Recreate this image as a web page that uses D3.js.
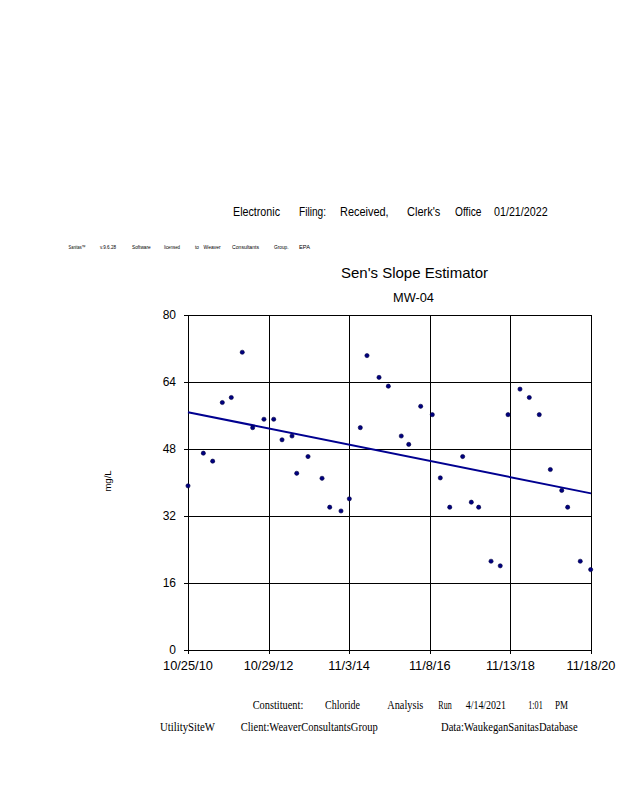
<!DOCTYPE html>
<html><head><meta charset="utf-8">
<script src="https://cdn.jsdelivr.net/npm/d3@7"></script>
<style>
html,body{margin:0;padding:0;background:#fff;}
svg{display:block;}
</style></head>
<body>
<script>
// ---- data ----
const sampleDates = ["2010-10-25","2011-03-14","2011-06-07","2011-09-03","2011-11-24","2012-03-03","2012-06-06","2012-09-17","2012-12-15","2013-03-01","2013-05-31","2013-07-13","2013-10-24","2014-03-01","2014-05-10","2014-08-21","2014-11-05","2015-02-13","2015-04-15","2015-08-03","2015-10-27","2016-02-22","2016-04-30","2016-08-17","2016-12-01","2017-02-12","2017-05-09","2017-09-04","2017-11-22","2018-01-28","2018-05-21","2018-08-13","2018-10-23","2019-02-09","2019-05-05","2019-08-04","2019-11-13","2020-02-25","2020-04-19","2020-08-12","2020-11-15"];
const chlorideValues = [39.2,47,45.1,59.1,60.3,71.1,53.1,55.1,55.1,50.2,51.1,42.2,46.2,41,34.1,33.2,36.1,53.1,70.3,65.1,63,51.1,49.1,58.2,56.2,41.1,34.1,46.2,35.3,34.1,21.2,20.1,56.2,62.3,60.3,56.2,43.1,38.1,34.1,21.2,19.2];
const trendDates = ["2010-10-25","2020-11-18"];
const trendValues = [56.8,37.4];
const xTickDates = ["2010-10-25","2012-10-29","2014-11-03","2016-11-08","2018-11-13","2020-11-18"];
const xTickLabels = ["10/25/10","10/29/12","11/3/14","11/8/16","11/13/18","11/18/20"];
const yTickValues = [0,16,32,48,64,80];
const titleText = "Sen's Slope Estimator";
const subtitleText = "MW-04";
const yAxisLabel = "mg/L";
const headerWords = ["Electronic","Filing:","Received,","Clerk's","Office","01/21/2022"];
const licenseWords = ["Sanitas\u2122","v.9.6.28","Software","licensed","to","Weaver","Consultants","Group.","EPA"];
const footerLine1 = ["Constituent:","Chloride","Analysis","Run","4/14/2021","1:01","PM"];
const footerLine2 = ["UtilitySiteW","Client:WeaverConsultantsGroup","Data:WaukeganSanitasDatabase"];

// ---- layout (positions, not data) ----
const headerLayout = [[233,47],[299,27],[340,48.6],[407,33.4],[455,26.4],[494,53.6]];
const licenseLayout = [[68.6,17],[100,16],[132,18.7],[164,16],[195,4],[203.6,17],[232,27],[274,14.6],[299,11]];
const footer1Layout = [[252.7,50.6],[325,35],[387.3,36],[438.3,13.4],[465.7,40.3],[528.3,14.4],[555,13]];
const footer2Layout = [[160,55],[240.7,137],[441,136.7]];

const W = 618, H = 800;
const svg = d3.select("body").append("svg").attr("width", W).attr("height", H);
const parse = d3.utcParse("%Y-%m-%d");

const x = d3.scaleUtc().domain([parse(xTickDates[0]), parse(xTickDates[xTickDates.length-1])]).range([188, 591]);
const y = d3.scaleLinear().domain([0, 80]).range([650, 315]);

function words(list, layout, baseline, family, size){
  svg.append("g").selectAll("text").data(list).join("text")
    .attr("x", (d,i)=>layout[i][0])
    .attr("y", baseline)
    .attr("textLength", (d,i)=>layout[i][1])
    .attr("lengthAdjust","spacingAndGlyphs")
    .attr("font-family", family)
    .attr("font-size", size)
    .attr("fill","#000")
    .text(d=>d);
}
const sans = "Liberation Sans, Arial, sans-serif";
const serif = "Liberation Serif, Times New Roman, serif";
words(headerWords, headerLayout, 215.5, sans, 13.5);
words(licenseWords, licenseLayout, 248.5, sans, 5.5);
words(footerLine1, footer1Layout, 709, serif, 12.5);
words(footerLine2, footer2Layout, 731, serif, 12.5);

// titles
svg.append("text").attr("x", 414.5).attr("y", 278).attr("text-anchor","middle")
  .attr("font-family", sans).attr("font-size", 15).text(titleText);
svg.append("text").attr("x", 413.5).attr("y", 301.5).attr("text-anchor","middle")
  .attr("font-family", sans).attr("font-size", 12.8).text(subtitleText);

// grid
const grid = svg.append("g").attr("stroke","#000").attr("stroke-width",1).attr("shape-rendering","crispEdges");
grid.selectAll("line.h").data(yTickValues).join("line").attr("class","h")
  .attr("x1", 184).attr("x2", 591).attr("y1", d=>Math.round(y(d))+0.5).attr("y2", d=>Math.round(y(d))+0.5);
grid.selectAll("line.v").data(xTickDates).join("line").attr("class","v")
  .attr("x1", d=>Math.round(x(parse(d)))+0.5).attr("x2", d=>Math.round(x(parse(d)))+0.5)
  .attr("y1", 315).attr("y2", 654);

// y tick labels
svg.append("g").selectAll("text").data(yTickValues).join("text")
  .attr("x", 176).attr("y", d=>y(d)+4.2).attr("text-anchor","end")
  .attr("font-family", sans).attr("font-size", 12).text(d=>d);
// x tick labels
svg.append("g").selectAll("text").data(xTickDates).join("text")
  .attr("x", d=>x(parse(d))).attr("y", 670).attr("text-anchor","middle")
  .attr("font-family", sans).attr("font-size", 12.8).text((d,i)=>xTickLabels[i]);

// y label
svg.append("text").attr("transform","translate(111,481) rotate(-90)").attr("text-anchor","middle")
  .attr("font-family", sans).attr("font-size", 9.5).text(yAxisLabel);

// trend line
const line = d3.line().x(d=>x(d[0])).y(d=>y(d[1]));
svg.append("path").datum(trendDates.map((d,i)=>[parse(d), trendValues[i]]))
  .attr("d", line).attr("fill","none").attr("stroke","#000090").attr("stroke-width",2);

// points
svg.append("g").selectAll("circle").data(sampleDates.map((d,i)=>[parse(d), chlorideValues[i]])).join("circle")
  .attr("cx", d=>x(d[0])).attr("cy", d=>y(d[1])).attr("r", 2.1)
  .attr("fill","#000080").attr("stroke","#000040").attr("stroke-width",0.6);
</script>
</body></html>
